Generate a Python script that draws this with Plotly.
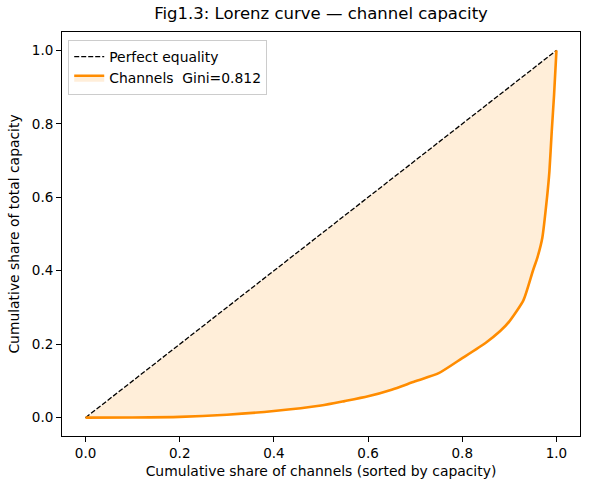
import plotly.graph_objects as go

# Data
eq_x = [0.0, 1.0]
eq_y = [0.0, 1.0]
lor_x = [0.0, 0.1, 0.2, 0.3, 0.4, 0.5, 0.55, 0.6, 0.65, 0.7, 0.75, 0.8, 0.85, 0.88,
         0.9, 0.93, 0.95, 0.96, 0.97, 0.98, 0.985, 0.99, 0.995, 1.0]
lor_y = [0.0, 0.0005, 0.002, 0.008, 0.018, 0.033, 0.045, 0.058, 0.076, 0.099, 0.121,
         0.162, 0.204, 0.235, 0.262, 0.32, 0.40, 0.438, 0.49, 0.60, 0.67, 0.78, 0.88, 1.0]
gini = 0.812
tick_vals = [0.0, 0.2, 0.4, 0.6, 0.8, 1.0]
tick_text = ["0.0", "0.2", "0.4", "0.6", "0.8", "1.0"]

FONT = "DejaVu Sans"
fig = go.Figure()
fig.add_trace(go.Scatter(x=eq_x, y=eq_y, mode="lines", name="Perfect equality",
                         line=dict(color="black", width=1.3, dash="5px,2px")))
fig.add_trace(go.Scatter(x=lor_x, y=lor_y, mode="lines", name=f"Channels  Gini={gini:.3f}",
                         line=dict(color="#ff8c00", width=2.6, shape="spline", smoothing=0.6),
                         fill="tonexty", fillcolor="rgba(255,140,0,0.15)"))

axis_common = dict(showline=True, linecolor="black", linewidth=1, mirror=True,
                   ticks="outside", ticklen=5, tickwidth=1, tickcolor="black",
                   showgrid=False, zeroline=False, tickvals=tick_vals, ticktext=tick_text,
                   tickfont=dict(family=FONT, size=13.5, color="black"))
fig.update_xaxes(range=[-0.05, 1.05], title=dict(text="Cumulative share of channels (sorted by capacity)",
                 font=dict(family=FONT, size=13.9, color="black"), standoff=6), **axis_common)
fig.update_yaxes(range=[-0.05, 1.05], title=dict(text="Cumulative share of total capacity",
                 font=dict(family=FONT, size=13.9, color="black"), standoff=8), **axis_common)

fig.update_layout(
    width=590, height=490,
    margin=dict(l=62, r=10, t=32, b=54),
    paper_bgcolor="white", plot_bgcolor="white",
    font=dict(family=FONT, color="black"),
    title=dict(text="Fig1.3: Lorenz curve — channel capacity", x=0.5, xref="paper",
               y=1 - 13 / 490, yref="container", yanchor="middle", xanchor="center",
               font=dict(family=FONT, size=16.5, color="black")),
    legend=dict(x=0.012, y=0.98, xanchor="left", yanchor="top", traceorder="normal",
                bgcolor="rgba(255,255,255,0.8)", bordercolor="#cccccc", borderwidth=1,
                font=dict(family=FONT, size=13.9, color="black"), itemwidth=30,
                tracegroupgap=0),
    showlegend=True,
)
fig.write_html("out.html")
